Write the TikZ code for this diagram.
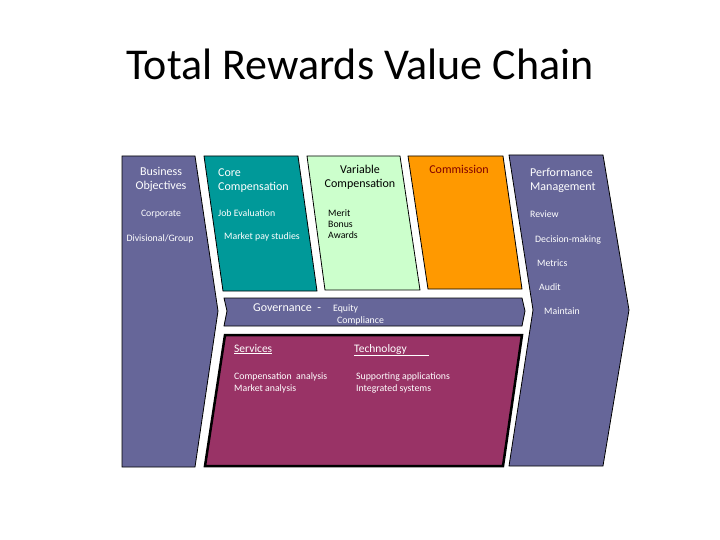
\documentclass[tikz,border=0pt]{standalone}
\usepackage{fontspec}
\setmainfont{Carlito}
\definecolor{bopurple}{HTML}{666699}
\definecolor{coreteal}{HTML}{009999}
\definecolor{varigreen}{HTML}{CCFFCC}
\definecolor{commorange}{HTML}{FF9900}
\definecolor{servmaroon}{HTML}{993366}
\definecolor{commtext}{HTML}{800000}
\tikzset{
  panel/.style={draw=black, line width=0.8pt, line join=miter},
  head/.style={font=\fontsize{12}{14}\selectfont, text=white, inner sep=0pt, align=left},
  small/.style={font=\fontsize{9.8}{11.5}\selectfont, text=white, inner sep=0pt, anchor=base west, align=left},
}
\begin{document}
\begin{tikzpicture}[x=1pt,y=-1pt]
\useasboundingbox (0,0) rectangle (720,540);
% title
\node[font=\fontsize{44}{50}\selectfont, anchor=base, inner sep=0pt] (title) at (360,80) {Total Rewards Value Chain};
% shapes
\draw[panel, fill=bopurple] (122,156) -- (195,156) -- (218,311) -- (195,467) -- (122,467) -- cycle;
\draw[panel, fill=coreteal] (204,156) -- (298,156) -- (317,291) -- (223,291) -- cycle;
\draw[panel, fill=varigreen] (307,156) -- (400,156) -- (420,290) -- (325,290) -- cycle;
\draw[panel, fill=commorange] (408,156) -- (503,156) -- (522,289) -- (428,289) -- cycle;
\draw[panel, fill=bopurple] (509,155) -- (603,155) -- (629,310) -- (603,466) -- (509,466) -- (533,310) -- cycle;
\draw[panel, fill=bopurple] (224,298) -- (522,298) -- (525,311) -- (522,326) -- (224,326) -- (227,311) -- cycle;
\draw[draw=black, line width=2.5pt, line join=miter, fill=servmaroon] (225,335) -- (522,335) -- (503,466) -- (205,466) -- cycle;
% business objectives
\node[head, align=center, anchor=base] (bo) at (161,190) {Business\\Objectives};
\node[small, anchor=base] (corp) at (161,217) {Corporate};
\node[small, anchor=base] (div) at (160,241) {Divisional/Group};
% core
\node[head, anchor=base west] (core) at (218,191) {Core\\Compensation};
\node[small] (job) at (218,216) {Job Evaluation};
\node[small] (mkt) at (224,240) {Market pay studies};
% variable
\node[head, align=center, anchor=base, text=black] (var) at (360,188) {Variable\\Compensation};
\node[small, text=black] (merit) at (328,239) {Merit\\Bonus\\Awards};
% commission
\node[head, anchor=base, text=commtext] (comm) at (459,174) {Commission};
% performance management
\node[head, anchor=base west] (pm) at (530,191) {Performance\\Management};
\node[small] (rev) at (530,218) {Review};
\node[small] (dec) at (535,242) {Decision-making};
\node[small] (met) at (537,266) {Metrics};
\node[small] (aud) at (539,290) {Audit};
\node[small] (mai) at (544,314) {Maintain};
% governance
\node[head, anchor=base west] (gov) at (253,311) {Governance \ -};
\node[small] (eq) at (333,323) {Equity\\\hspace*{4pt}Compliance};
% services / technology
\node[small, font=\fontsize{11.5}{13}\selectfont] (serv) at (234,352) {\underline{Services}};
\node[small, font=\fontsize{11.5}{13}\selectfont] (tech) at (354,352) {\underline{Technology\hspace*{22pt}}};
\node[small] (ca) at (234,391) {Compensation\ \ analysis\\Market analysis};
\node[small] (sa) at (356,391) {Supporting applications\\Integrated systems};
\end{tikzpicture}
\end{document}
